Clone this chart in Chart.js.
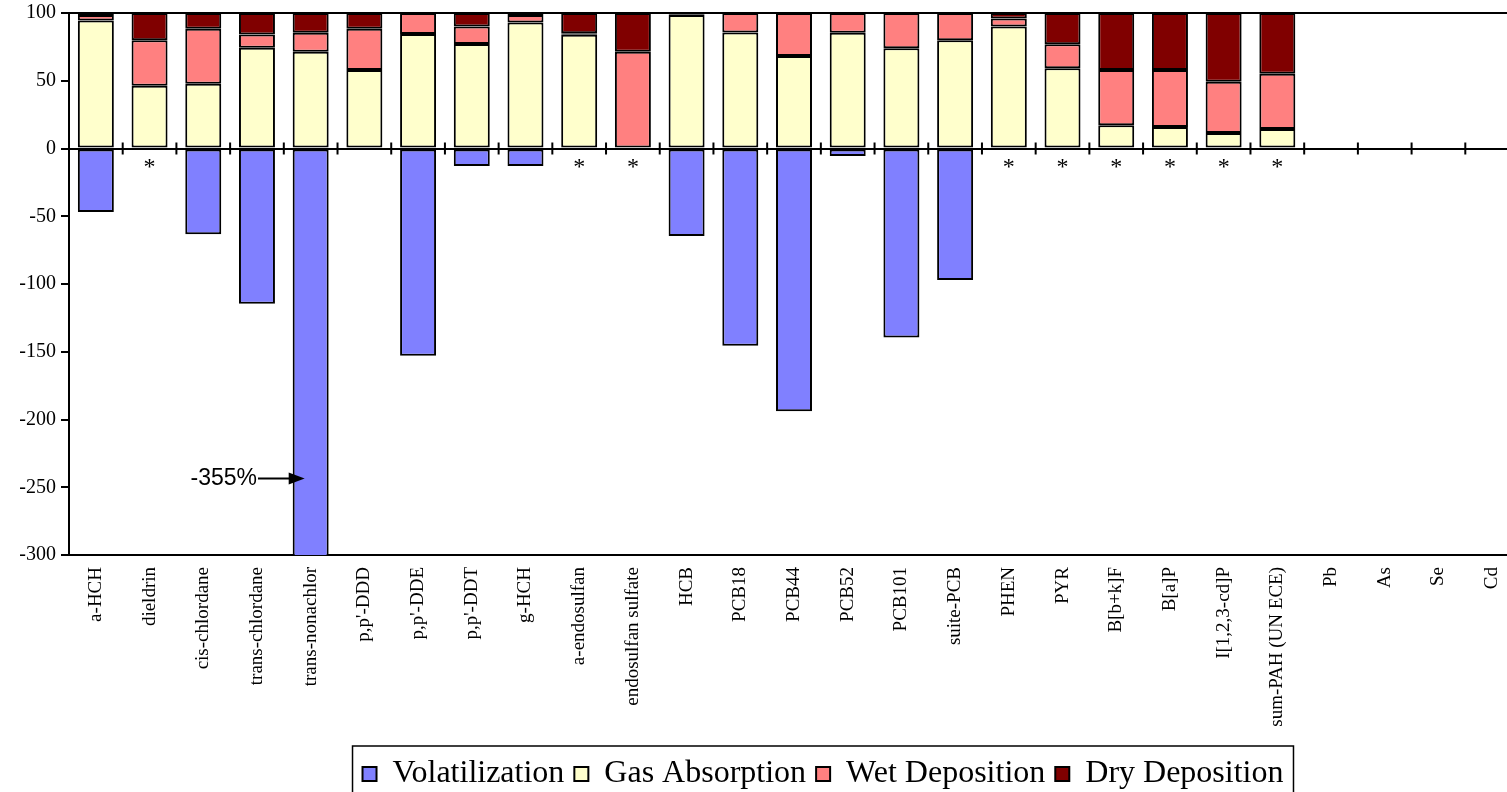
<!DOCTYPE html>
<html>
<head>
<meta charset="utf-8">
<script src="https://cdn.jsdelivr.net/npm/chart.js@4.4.0/dist/chart.umd.min.js"></script>
<style>
  html, body { margin: 0; padding: 0; overflow: hidden; background: #fff; }
  #wrap { width: 1646px; height: 800px; }
</style>
</head>
<body>
<div id="wrap"><canvas id="fluxChart" width="1646" height="800"></canvas></div>
<script>
// Catégories et valeurs (% du flux)
const categories = ["a-HCH", "dieldrin", "cis-chlordane", "trans-chlordane", "trans-nonachlor",
  "p,p'-DDD", "p,p'-DDE", "p,p'-DDT", "g-HCH", "a-endosulfan", "endosulfan sulfate", "HCB",
  "PCB18", "PCB44", "PCB52", "PCB101", "suite-PCB", "PHEN", "PYR", "B[b+k]F", "B[a]P",
  "I[1,2,3-cd]P", "sum-PAH (UN ECE)", "Pb", "As", "Se", "Cd"];

const volatilization = [-46.8, null, -63.2, -114.5, -355, null, -153, -12.9, -12.9, null, null, -64.5,
  -145.6, -194, -5.5, -139.5, -97, null, null, null, null, null, null, null, null, null, null];
const gasAbsorption = [94.4, 46.4, 47.8, 74.3, 71.4, 58, 84.5, 77.2, 93, 84, null, 98.5,
  85.7, 68.2, 85.4, 74, 79.9, 90, 59.2, 17.2, 15.8, 11.4, 14.3, null, null, null, null];
const wetDeposition = [4.1, 33.5, 40.5, 9.9, 14, 30.3, 15.5, 12.8, 5.5, 1, 71.4, 0.5,
  14.3, 31.8, 14.6, 26, 20.1, 5.9, 17.8, 40.8, 42.2, 37.9, 40.8, null, null, null, null];
const dryDeposition = [1.5, 20.1, 11.7, 15.8, 14.6, 11.7, null, 10, 1.5, 15, 28.6, 1,
  null, null, null, null, null, 4.1, 23, 42, 42, 50.7, 44.9, null, null, null, null];

// * = pas de volatilisation
const noVolatilization = [false, true, false, false, false, false, false, false, false, true, true, false,
  false, false, false, false, false, true, true, true, true, true, true, false, false, false, false];

const yTicks = [100, 50, 0, -50, -100, -150, -200, -250, -300];
const edgeLines = [100, 0, -300];

const serif = "'Liberation Serif', 'Times New Roman', serif";

// Desenha detalhes extras: marcas no zero, asteriscos, anotação e caixa da legenda
const extras = {
  id: "extras",
  afterDatasetsDraw(chart) {
    const { ctx, scales: { x, y } } = chart;
    const y0 = y.getPixelForValue(0);
    ctx.save();
    ctx.strokeStyle = "#000";
    ctx.lineWidth = 2;
    for (let i = 1; i < categories.length; i++) {
      const bx = (x.getPixelForValue(i - 1) + x.getPixelForValue(i)) / 2;
      ctx.beginPath();
      ctx.moveTo(bx, y0 - 6);
      ctx.lineTo(bx, y0 + 6);
      ctx.stroke();
    }

    ctx.fillStyle = "#000";
    ctx.font = "24px " + serif;
    ctx.textAlign = "center";
    ctx.textBaseline = "alphabetic";
    noVolatilization.forEach((flag, i) => {
      if (flag) ctx.fillText("*", x.getPixelForValue(i), y0 + 25);
    });

    // -355% (barra cortada)
    const bar = chart.getDatasetMeta(0).data[4];
    const ay = y.getPixelForValue(-243.5);
    const tip = bar.x - bar.width / 2 + 12;
    ctx.font = "23px 'Liberation Sans', Arial, sans-serif";
    ctx.textAlign = "right";
    ctx.textBaseline = "middle";
    ctx.fillText("-355%", 257, ay);
    ctx.lineWidth = 2;
    ctx.beginPath();
    ctx.moveTo(258, ay);
    ctx.lineTo(tip - 14, ay);
    ctx.stroke();
    ctx.beginPath();
    ctx.moveTo(tip, ay);
    ctx.lineTo(tip - 16, ay - 6);
    ctx.lineTo(tip - 16, ay + 6);
    ctx.closePath();
    ctx.fill();
    ctx.restore();
  },
  afterDraw(chart) {
    const lg = chart.legend;
    const hb = lg.legendHitBoxes;
    if (!hb || !hb.length) return;
    const left = hb[0].left - 10;
    const last = hb[hb.length - 1];
    const right = last.left + last.width + 10;
    const ctx = chart.ctx;
    ctx.save();
    ctx.strokeStyle = "#000";
    ctx.lineWidth = 1.5;
    ctx.strokeRect(left, lg.top - 2, right - left, chart.height);
    ctx.restore();
  }
};

const ctx = document.getElementById("fluxChart").getContext("2d");
const fluxChart = new Chart(ctx, {
  type: "bar",
  data: {
    labels: categories,
    datasets: [
      { label: "Volatilization", data: volatilization, backgroundColor: "#8080FF" },
      { label: "Gas Absorption", data: gasAbsorption, backgroundColor: "#FFFFCC" },
      { label: "Wet Deposition", data: wetDeposition, backgroundColor: "#FF8080" },
      { label: "Dry Deposition", data: dryDeposition, backgroundColor: "#800000" }
    ].map(ds => Object.assign(ds, {
      borderColor: "#000",
      borderWidth: 2,
      borderSkipped: false,
      barPercentage: 0.67,
      categoryPercentage: 1
    }))
  },
  options: {
    responsive: false,
    animation: false,
    devicePixelRatio: 1,
    layout: { padding: { top: 13, left: 0, right: 0, bottom: 0 } },
    plugins: {
      legend: {
        position: "bottom",
        labels: {
          color: "#000",
          font: { family: serif, size: 32 },
          boxWidth: 14,
          boxHeight: 14,
          padding: 10
        }
      },
      tooltip: { enabled: false }
    },
    scales: {
      x: {
        stacked: true,
        grid: { display: false, drawTicks: false },
        border: { display: false },
        ticks: {
          color: "#000",
          font: { family: serif, size: 19 },
          minRotation: 90,
          maxRotation: 90,
          autoSkip: false,
          padding: 12
        },
        afterFit(s) { s.height = 193; }
      },
      y: {
        stacked: true,
        min: -300,
        max: 100,
        afterBuildTicks(s) { s.ticks = yTicks.map(v => ({ value: v })); },
        grid: {
          color: c => edgeLines.includes(c.tick && c.tick.value) ? "#000" : "rgba(0,0,0,0)",
          tickColor: "#000",
          lineWidth: 2,
          tickLength: 8
        },
        border: { display: true, color: "#000", width: 2 },
        ticks: {
          color: "#000",
          font: { family: serif, size: 20, lineHeight: 0.8 },
          padding: 5
        },
        afterFit(s) { s.width = 69; }
      },
      spacer: {
        position: "right",
        grid: { display: false, drawTicks: false },
        border: { display: false },
        ticks: { display: false },
        afterFit(s) { s.width = 127; }
      }
    }
  },
  plugins: [extras]
});
</script>
</body>
</html>
